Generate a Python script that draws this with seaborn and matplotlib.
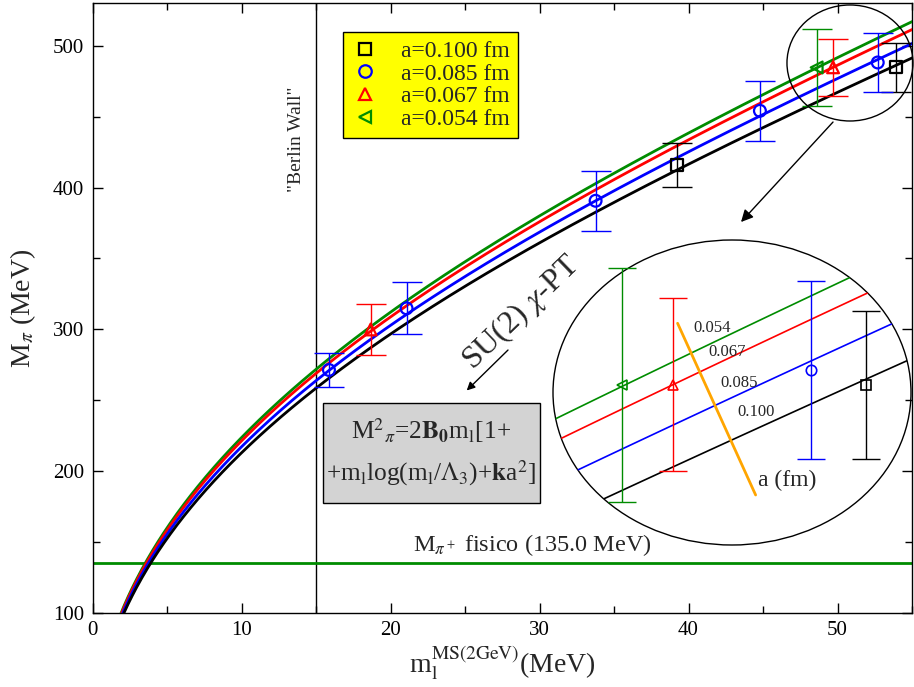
import numpy as np
import pandas as pd
import matplotlib
matplotlib.use("Agg")
import matplotlib.pyplot as plt
from matplotlib.patches import Ellipse, Rectangle
from matplotlib.lines import Line2D
from matplotlib.ticker import MultipleLocator
import seaborn as sns

# ensembles: lattice spacing, legend text and styles
spacings = [0.100, 0.085, 0.067, 0.054]
labels = ["a=0.100 fm", "a=0.085 fm", "a=0.067 fm", "a=0.054 fm"]
colors = ["#000000", "#0000ff", "#ff0000", "#008c00"]
markers = ["s", "o", "^", "<"]

# light quark mass m_l (MeV), pion mass M_pi (MeV) and errors per ensemble
ml_a100 = [39.2, 53.9]
mpi_a100 = [415.9, 484.9]
err_a100 = [15.5, 17.2]

ml_a085 = [15.86, 21.07, 33.76, 44.79, 52.7]
mpi_a085 = [271.3, 314.8, 390.7, 454.2, 488.3]
err_a085 = [12.2, 18.4, 21.3, 21.3, 20.6]

ml_a067 = [18.66, 49.7]
mpi_a067 = [299.9, 484.9]
err_a067 = [18.0, 20.1]

ml_a054 = [48.6]
mpi_a054 = [484.8]
err_a054 = [27.2]

# SU(2) chiral perturbation theory fit parameters
B0 = 2765.0
c_log = 0.00261
Lambda3 = 100.0
k_a2 = -12.0

M_phys = 135.0
m_wall = 15.0

series = [
    (ml_a100, mpi_a100, err_a100),
    (ml_a085, mpi_a085, err_a085),
    (ml_a067, mpi_a067, err_a067),
    (ml_a054, mpi_a054, err_a054),
]

points = pd.concat(
    [pd.DataFrame({"ml": s[0], "Mpi": s[1], "err": s[2], "a": lab})
     for s, lab in zip(series, labels)],
    ignore_index=True,
)

m_grid = np.linspace(1.2, 56.0, 600)
curves = pd.concat(
    [pd.DataFrame({
        "ml": m_grid,
        "Mpi": np.sqrt(np.clip(2 * B0 * m_grid * (1 + c_log * m_grid * np.log(m_grid / Lambda3) + k_a2 * a ** 2), 0, None)),
        "a": lab})
     for a, lab in zip(spacings, labels)],
    ignore_index=True,
)

sns.set_style("ticks")
plt.rcParams["font.family"] = ["Liberation Serif", "DejaVu Serif"]
plt.rcParams["mathtext.fontset"] = "stix"

W, H = 914, 687
fig = plt.figure(figsize=(W / 100, H / 100), dpi=100)
fig.patch.set_facecolor("white")


def fx(px):
    return px / W


def fy(py):
    return 1 - py / H


ax = fig.add_axes([fx(92.7), fy(612.7), (912 - 92.7) / W, (612.7 - 3.4) / H])
palette = dict(zip(labels, colors))

# fit curves
sns.lineplot(data=curves, x="ml", y="Mpi", hue="a", palette=palette,
             hue_order=labels[::-1], lw=2.0, legend=False, sort=False,
             estimator=None, ax=ax, zorder=3)

# data points with error bars
for (ml, mpi, err), lab, col, mk in zip(series, labels, colors, markers):
    ax.errorbar(ml, mpi, yerr=err, fmt="none", ecolor=col, elinewidth=1.0,
                capsize=11, capthick=1.0, zorder=4)
    sub = points[points["a"] == lab]
    sns.scatterplot(data=sub, x="ml", y="Mpi", marker=mk, s=72,
                    color=col, facecolor="none", edgecolor=col,
                    linewidth=1.6, legend=False, ax=ax, zorder=5)

ax.axvline(m_wall, color="black", lw=1.0, zorder=2)
ax.axhline(M_phys, color=colors[3], lw=2.0, zorder=2)

ax.set_xlim(0, 55)
ax.set_ylim(100, 530)
ax.xaxis.set_major_locator(MultipleLocator(10))
ax.xaxis.set_minor_locator(MultipleLocator(5))
ax.yaxis.set_major_locator(MultipleLocator(100))
ax.yaxis.set_minor_locator(MultipleLocator(50))
ax.tick_params(which="both", direction="in", top=True, right=True,
               labelsize=15, width=1.0, colors="black", pad=6)
ax.tick_params(which="major", length=7)
ax.tick_params(which="minor", length=5)
for sp in ax.spines.values():
    sp.set_linewidth(1.0)
    sp.set_color("black")

ax.set_xlabel(r"m$_\mathrm{l}^\mathrm{MS(2GeV)}$(MeV)", fontsize=20, labelpad=2)
ax.set_ylabel(r"M$_\pi$ (MeV)", fontsize=20, labelpad=11)

# legend
handles = [Line2D([], [], ls="none", marker=mk, ms=9, mfc="none", mec=col, mew=1.6)
           for mk, col in zip(markers, colors)]
leg = ax.legend(handles, labels, loc="upper left", bbox_to_anchor=(0.3055, 0.953),
                borderaxespad=0, fontsize=17, frameon=True, fancybox=False,
                labelspacing=0.05, handletextpad=0.9, handlelength=1.2,
                borderpad=0.35)
leg.get_frame().set_facecolor("#ffff00")
leg.get_frame().set_edgecolor("black")
leg.get_frame().set_linewidth(1.0)
leg.get_frame().set_alpha(1)

ax.text(13.7, 434, '"Berlin Wall"', rotation=90, ha="center", va="center",
        fontsize=14)
ax.text(29.5, 148, r"M$_{\pi^+}$ fisico (135.0 MeV)", ha="center", va="center",
        fontsize=17.5)
ax.text(28.8, 311.5, r"SU(2) $\chi$-PT", rotation=44, ha="center", va="center",
        rotation_mode="anchor", fontsize=23)
ax.annotate("", xy=(0.4565, 0.3647), xytext=(0.5069, 0.4311),
            xycoords="axes fraction",
            arrowprops=dict(arrowstyle="-|>", color="black", lw=1.0,
                            mutation_scale=12, shrinkA=0, shrinkB=0))

# fit formula in a grey box
box_x0, box_x1, box_y0, box_y1 = 0.2807, 0.5460, 0.1800, 0.3447
ax.add_patch(Rectangle((box_x0, box_y0), box_x1 - box_x0, box_y1 - box_y0,
                       transform=ax.transAxes, fc="#d3d3d3", ec="black",
                       lw=1.0, zorder=6))
ax.text((box_x0 + box_x1) / 2, (box_y0 + box_y1) / 2 + 0.002,
        "M$^2$$_\\pi$=2$\\mathbf{B_0}$m$_\\mathrm{l}$[1+\n"
        "+m$_\\mathrm{l}$log(m$_\\mathrm{l}$/$\\Lambda_3$)+$\\mathbf{k}$a$^2$]",
        transform=ax.transAxes, ha="center", va="center",
        multialignment="center", fontsize=18.3, linespacing=1.6, zorder=7)

# small circle around the heavy-mass points, arrow to the magnified view
small = Ellipse((0.9243, 0.9022), 0.1538, 0.1904, transform=ax.transAxes,
                fc="none", ec="black", lw=1.0, clip_on=False, zorder=6)
ax.add_patch(small)
ax.annotate("", xy=(0.7913, 0.6412), xytext=(0.9036, 0.8053),
            xycoords="axes fraction",
            arrowprops=dict(arrowstyle="-|>", color="black", lw=1.0,
                            mutation_scale=18, shrinkA=0, shrinkB=0))

# magnified view inside the large circle
ax_in = fig.add_axes([fx(553), fy(545), (911 - 553) / W, (545 - 240) / H])
ax_in.set_axis_off()
ax_in.patch.set_alpha(0)
big = Ellipse((0.5, 0.5), 1.0, 1.0, transform=ax_in.transAxes,
              fc="none", ec="black", lw=1.0, clip_on=False)
ax_in.add_patch(big)
sub_curves = curves[(curves["ml"] > 46) & (curves["ml"] < 56)]
sns.lineplot(data=sub_curves, x="ml", y="Mpi", hue="a", palette=palette,
             hue_order=labels[::-1], lw=1.2, legend=False, sort=False,
             estimator=None, ax=ax_in)
for ln in ax_in.lines:
    ln.set_clip_path(big)
for (ml, mpi, err), lab, col, mk in zip(series, labels, colors, markers):
    sel = [i for i, m in enumerate(ml) if m > 47]
    if not sel:
        continue
    xm = [ml[i] for i in sel]
    ym = [mpi[i] for i in sel]
    ye = [err[i] for i in sel]
    ax_in.errorbar(xm, ym, yerr=ye, fmt="none", ecolor=col, elinewidth=1.0,
                   capsize=10, capthick=1.0)
    ax_in.plot(xm, ym, ls="none", marker=mk, ms=7.5, mfc="none", mec=col, mew=1.2)
ax_in.set_xlim(47.09, 54.87)
ax_in.set_ylim(447.6, 518.5)

# spacing axis drawn across the magnified curves
ax_in.plot([0.348, 0.566], [0.727, 0.164], transform=ax_in.transAxes,
           color="#ffa500", lw=2.0)
for txt, (tx, ty) in zip(["0.054", "0.067", "0.085", "0.100"],
                         [(0.444, 0.711), (0.486, 0.633), (0.519, 0.531), (0.567, 0.436)]):
    ax_in.text(tx, ty, txt, transform=ax_in.transAxes, ha="center", va="center",
               fontsize=12)
ax_in.text(0.653, 0.213, "a (fm)", transform=ax_in.transAxes, ha="center",
           va="center", fontsize=17)

fig.savefig("out.png", dpi=100, facecolor="white")
